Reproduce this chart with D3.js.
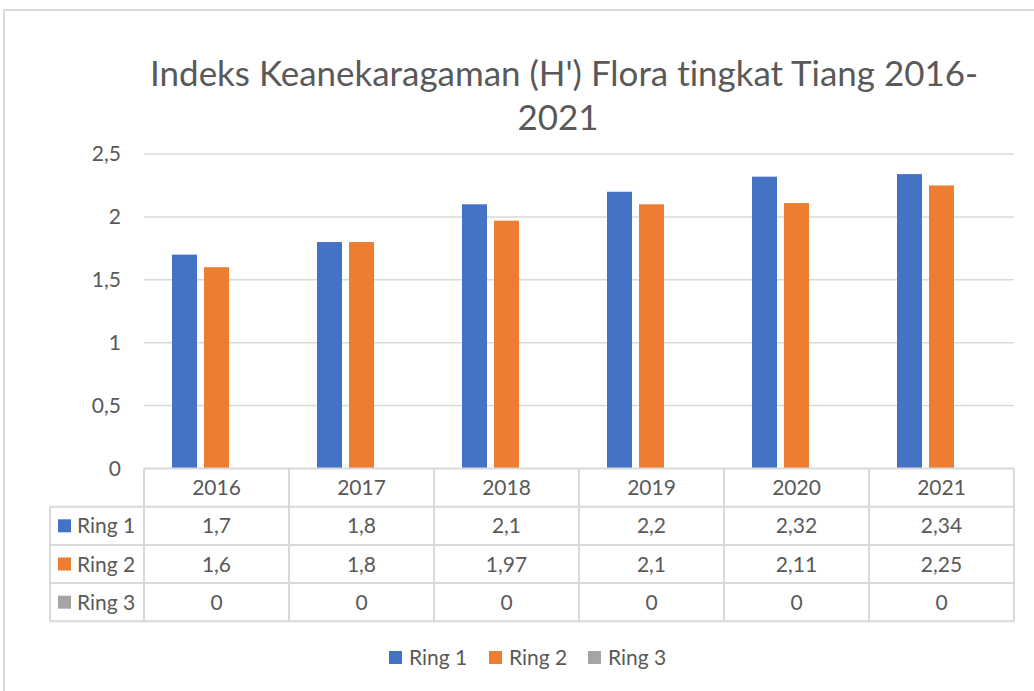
<!DOCTYPE html>
<html>
<head>
<meta charset="utf-8">
<script src="https://cdn.jsdelivr.net/npm/d3@7"></script>
<style>
  body { margin: 0; background: #fff; }
  svg { display: block; font-family: Lato, "Open Sans", sans-serif; font-variant-ligatures: none; }
</style>
</head>
<body>
<svg id="chart" width="1034" height="691"></svg>
<script>
"use strict";

// chart values
const years = ["2016", "2017", "2018", "2019", "2020", "2021"];
const seriesNames = ["Ring 1", "Ring 2", "Ring 3"];
const ring1 = [1.7, 1.8, 2.1, 2.2, 2.32, 2.34];
const ring2 = [1.6, 1.8, 1.97, 2.1, 2.11, 2.25];
const ring3 = [0, 0, 0, 0, 0, 0];
const yTicks = [0, 0.5, 1, 1.5, 2, 2.5];
const titleLines = ["Indeks Keanekaragaman (H') Flora tingkat Tiang 2016-", "2021"];

const seriesValues = [ring1, ring2, ring3];
const COLORS = ["#4472C4", "#ED7D31", "#A5A5A5"];
const GRID = "#D9D9D9";
const TEXT = "#595959";
const FONT = "21px";

const svg = d3.select("#chart");

// outer chart border (cropped at the right / bottom)
svg.append("path")
  .attr("d", "M4,700 L4,10 L1040,10")
  .attr("fill", "none")
  .attr("stroke", GRID)
  .attr("stroke-width", 2);

// title
const title = svg.append("g").attr("fill", TEXT).attr("text-anchor", "middle");
const t1 = title.append("text").attr("x", 564).attr("y", 86).text(titleLines[0]);
const t2 = title.append("text").attr("x", 558).attr("y", 130).text(titleLines[1]);
// size the title so line 1 spans the same width as the reference
t1.style("font-size", "32px");
const w = t1.node().getComputedTextLength();
const fs = 32 * 828 / w;
t1.style("font-size", fs + "px");
t2.style("font-size", fs + "px");

// scales
const plotLeft = 144, plotRight = 1014, plotTop = 154, plotBottom = 468.5;
const x = d3.scaleBand().domain(years).range([plotLeft, plotRight]);
const xInner = d3.scaleBand().domain(seriesNames).range([0, x.bandwidth()])
  .paddingInner(0.21875).paddingOuter(0.875);
const y = d3.scaleLinear().domain([0, 2.5]).range([plotBottom, plotTop]);
const fmt = (v) => String(v).replace(".", ",");

// gridlines
svg.append("g")
  .selectAll("line")
  .data(yTicks.filter((d) => d > 0))
  .join("line")
  .attr("x1", plotLeft).attr("x2", plotRight)
  .attr("y1", (d) => y(d)).attr("y2", (d) => y(d))
  .attr("stroke", GRID).attr("stroke-width", 1.5);

// y axis labels
svg.append("g")
  .selectAll("text")
  .data(yTicks)
  .join("text")
  .attr("x", 121)
  .attr("y", (d) => y(d) + 7)
  .attr("text-anchor", "end")
  .attr("fill", TEXT)
  .style("font-size", FONT)
  .text(fmt);

// bars
const rows = [];
seriesNames.forEach((s, si) => {
  years.forEach((yr, i) => rows.push({ series: s, si, year: yr, value: seriesValues[si][i] }));
});
svg.append("g")
  .selectAll("rect")
  .data(rows.filter((d) => d.value > 0))
  .join("rect")
  .attr("x", (d) => x(d.year) + xInner(d.series))
  .attr("width", xInner.bandwidth())
  .attr("y", (d) => y(d.value))
  .attr("height", (d) => y(0) - y(d.value))
  .attr("fill", (d) => COLORS[d.si]);

// data table
const rowH = 38.2;
const tableLeft = 50;
const rowY = (i) => plotBottom + rowH * i; // i=0 header top
const table = svg.append("g").attr("stroke", GRID).attr("stroke-width", 2).attr("fill", "none");
// header top / axis line
table.append("line").attr("x1", plotLeft).attr("x2", plotRight).attr("y1", plotBottom).attr("y2", plotBottom);
d3.range(1, 5).forEach((i) => {
  table.append("line").attr("x1", tableLeft).attr("x2", plotRight).attr("y1", rowY(i)).attr("y2", rowY(i));
});
// vertical lines at category edges
years.concat(["end"]).forEach((yr, i) => {
  const xx = i < years.length ? x(yr) : plotRight;
  table.append("line").attr("x1", xx).attr("x2", xx).attr("y1", plotBottom).attr("y2", rowY(4));
});
table.append("line").attr("x1", tableLeft).attr("x2", tableLeft).attr("y1", rowY(1)).attr("y2", rowY(4));

const tText = svg.append("g").attr("fill", TEXT).style("font-size", FONT);
// header years
tText.selectAll(".yr")
  .data(years)
  .join("text")
  .attr("class", "yr")
  .attr("x", (d) => x(d) + x.bandwidth() / 2)
  .attr("y", rowY(0) + rowH / 2 + 7.5)
  .attr("text-anchor", "middle")
  .text((d) => d);

seriesNames.forEach((s, si) => {
  const cy = rowY(si + 1) + rowH / 2;
  svg.append("rect")
    .attr("x", 58).attr("y", cy - 6.5).attr("width", 13).attr("height", 13)
    .attr("fill", COLORS[si]);
  tText.append("text").attr("x", 77).attr("y", cy + 7.5).text(s);
  tText.selectAll(".v" + si)
    .data(seriesValues[si])
    .join("text")
    .attr("class", "v" + si)
    .attr("x", (d, i) => x(years[i]) + x.bandwidth() / 2)
    .attr("y", cy + 7.5)
    .attr("text-anchor", "middle")
    .text(fmt);
});

// legend
const legendX = [389, 489, 588];
const legend = svg.append("g")
  .selectAll("g")
  .data(seriesNames)
  .join("g")
  .attr("transform", (d, i) => `translate(${legendX[i]},657.5)`);
legend.append("rect")
  .attr("y", -6.5).attr("width", 13).attr("height", 13)
  .attr("fill", (d, i) => COLORS[i]);
legend.append("text")
  .attr("x", 20).attr("y", 7.5)
  .attr("fill", TEXT)
  .style("font-size", FONT)
  .text((d) => d);
</script>
</body>
</html>
